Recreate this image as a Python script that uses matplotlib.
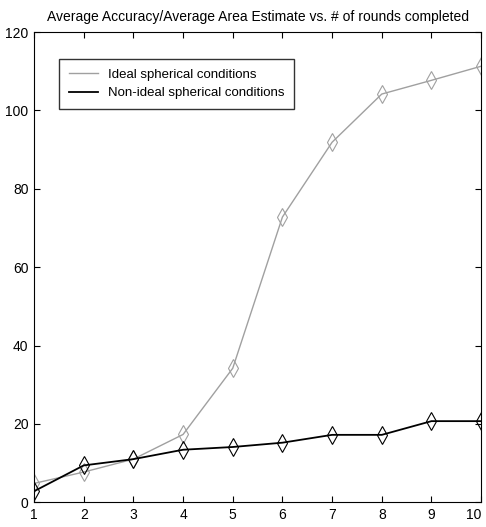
import numpy as np
import matplotlib.pyplot as plt

plt.rcParams['font.family'] = ['Liberation Sans Narrow', 'Liberation Sans', 'DejaVu Sans']

rounds = [1, 2, 3, 4, 5, 6, 7, 8, 9, 10]
ideal = [4.8, 7.7, 11.0, 17.3, 34.2, 72.8, 91.9, 104.2, 107.7, 111.3]
non_ideal = [2.8, 9.4, 11.0, 13.4, 14.1, 15.2, 17.2, 17.2, 20.7, 20.7]

fig = plt.figure(figsize=(4.86, 5.27), dpi=100)
ax = fig.add_axes([0.070, 0.047, 0.920, 0.892])

ax.plot(rounds, ideal, color="#a0a0a0", linewidth=1.0, marker="d",
        markersize=9, markerfacecolor="none", markeredgecolor="#a0a0a0",
        markeredgewidth=0.8, label="Ideal spherical conditions")
ax.plot(rounds, non_ideal, color="black", linewidth=1.3, marker="d",
        markersize=9, markerfacecolor="none", markeredgecolor="black",
        markeredgewidth=0.8, label="Non-ideal spherical conditions")

ax.set_xlim(1, 10)
ax.set_ylim(0, 120)
ax.set_xticks(rounds)
ax.set_yticks(np.arange(0, 121, 20))
ax.tick_params(direction="in", top=True, right=True, labelsize=10, length=4,
               pad=4)
for lbl in ax.get_xticklabels():
    if lbl.get_text() == "10":
        lbl.set_horizontalalignment("right")
ax.set_title("Average Accuracy/Average Area Estimate vs. # of rounds completed",
             fontsize=10, pad=8)

leg = ax.legend(loc="upper left", bbox_to_anchor=(0.055, 0.943),
                borderaxespad=0, fontsize=9.5, frameon=True, fancybox=False,
                handlelength=2.2, borderpad=0.75, labelspacing=0.45)
leg.get_frame().set_edgecolor("black")
leg.get_frame().set_linewidth(1.0)
for h in leg.legend_handles:
    h.set_marker("")

fig.savefig("out.png", dpi=100)
